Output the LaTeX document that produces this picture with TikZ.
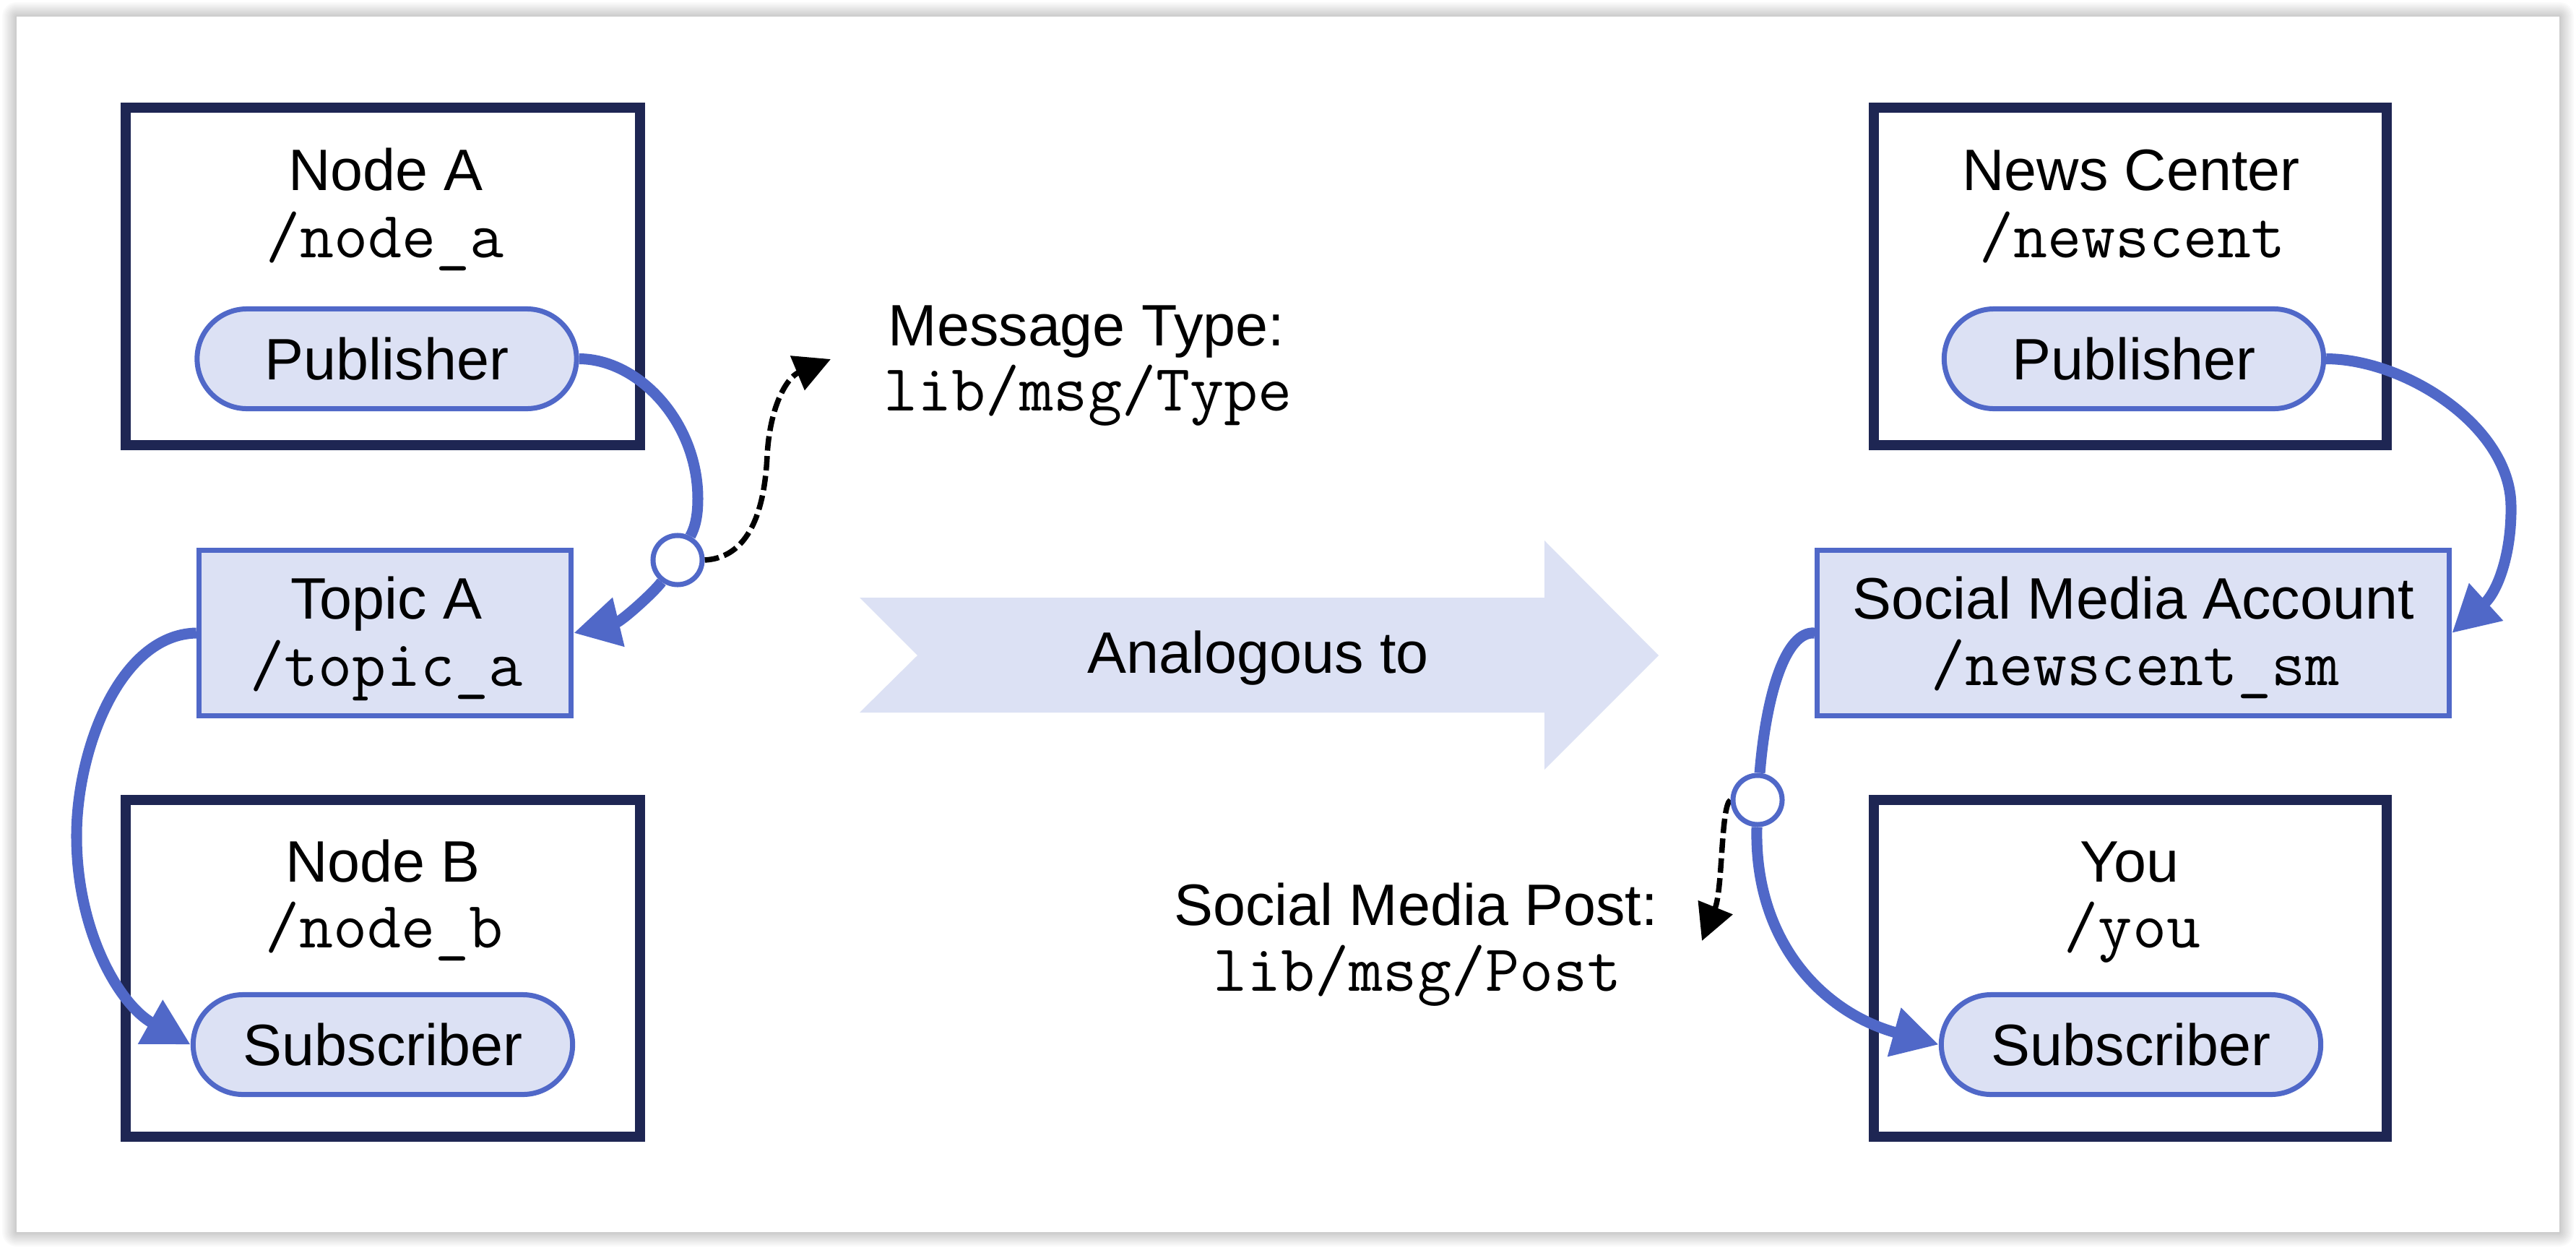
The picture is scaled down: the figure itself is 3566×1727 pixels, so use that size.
\documentclass[tikz,border=0pt]{standalone}
\usepackage{fontspec}
\setmainfont{Liberation Sans}
\usetikzlibrary{arrows.meta}
\definecolor{navy}{RGB}{30,38,83}
\definecolor{rosblue}{RGB}{80,104,200}
\definecolor{rosfill}{RGB}{220,225,244}
\pgfdeclarelayer{bg}
\pgfdeclarelayer{top}
\pgfsetlayers{bg,main,top}
\begin{document}
\begin{tikzpicture}[x=0.01cm,y=-0.01cm,
  nodebox/.style={draw=navy,line width=0.14cm,fill=white,minimum width=7.12cm,minimum height=4.67cm,inner sep=0pt},
  topicbox/.style={draw=rosblue,line width=0.07cm,fill=rosfill,minimum height=2.29cm,inner sep=0pt},
  pill/.style={draw=rosblue,line width=0.07cm,fill=rosfill,rounded corners=0.69cm,minimum width=5.25cm,minimum height=1.38cm,inner sep=0pt,font=\fontsize{23}{27}\selectfont},
  title/.style={anchor=base,inner sep=0pt,font=\fontsize{23}{27}\selectfont},
  code/.style={anchor=base,inner sep=0pt,font=\fontsize{26}{30}\selectfont\ttfamily},
  port/.style={circle,draw=rosblue,line width=0.07cm,fill=white,minimum size=0.68cm,inner sep=0pt},
  conn/.style={draw=rosblue,line width=0.15cm},
  connarrow/.style={conn,-{Triangle[length=0.64cm,width=0.66cm]}},
  msgarrow/.style={draw=black,line width=0.075cm,dash pattern=on 0.2cm off 0.075cm,-{Triangle[length=0.5cm,width=0.5cm]}},
]
\useasboundingbox (0,0) rectangle (3566,1727);
\begin{pgfonlayer}{bg}
\fill[white] (0,0) rectangle (3566,1727);
\foreach \i in {1,...,10}
  \draw[black,opacity=0.02,line width=\i*0.04cm,line join=round] (23,23) rectangle (3543,1705);
\fill[white] (23,23) rectangle (3543,1705);
\end{pgfonlayer}

% left side
\node[nodebox] (boxA) at (530,382.5) {};
\node[title] (nameA) at (534,263) {Node A};
\node[code] (idA) at (533,356) {/node\_a};
\node[pill] (pubA) at (535.5,496.5) {Publisher};

\node[topicbox,minimum width=5.15cm] (topicA) at (533,876) {};
\node[title] (nameTA) at (535,856) {Topic A};
\node[code] (idTA) at (535,949) {/topic\_a};

\node[nodebox,minimum height=4.655cm] (boxB) at (530,1340) {};
\node[title] (nameB) at (530,1220) {Node B};
\node[code] (idB) at (532,1311) {/node\_b};
\node[pill] (subB) at (530,1445.5) {Subscriber};

% middle
\fill[rosfill] (1190,827) -- (2138,827) -- (2138,748) -- (2296,907) -- (2138,1065) -- (2138,986) -- (1190,986) -- (1270,907) -- cycle;
\node[title] (analog) at (1742,931) {Analogous to};

\node[title] (msgT) at (1504,478) {Message Type:};
\node[code] (msgTid) at (1506,568) {lib/msg/Type};
\node[title] (msgP) at (1960,1280) {Social Media Post:};
\node[code] (msgPid) at (1962,1371) {lib/msg/Post};
\coordinate (tipT) at (1150,497);
\coordinate (tipP) at (2356,1302);

% right side
\node[nodebox,minimum width=7.1cm] (boxN) at (2949,382.5) {};
\node[title] (nameN) at (2950,263) {News Center};
\node[code] (idN) at (2952,356) {/newscent};
\node[pill] (pubN) at (2954,496.5) {Publisher};

\node[topicbox,minimum width=8.75cm] (smA) at (2953,876) {};
\node[title] (nameSM) at (2953,856) {Social Media Account};
\node[code] (idSM) at (2956,948) {/newscent\_sm};

\node[nodebox,minimum width=7.1cm,minimum height=4.655cm] (boxY) at (2949,1340) {};
\node[title] (nameY) at (2948,1220) {You};
\node[code] (idY) at (2952,1311) {/you};
\node[pill] (subY) at (2950,1445.5) {Subscriber};

\begin{pgfonlayer}{top}
\node[port] (portA) at (938,775) {};
\node[port] (portN) at (2433,1107) {};
\end{pgfonlayer}

% connectors
\draw[conn] (pubA.east) .. controls (885,497) and (966,585) .. (966,690) .. controls (966,715) and (962,730) .. (portA);
\draw[connarrow] (portA) .. controls (905,820) and (860,860) .. (topicA.east);
\draw[connarrow] (topicA.west) .. controls (165,878) and (105,1040) .. (106,1160) .. controls (107,1290) and (165,1390) .. (subB.west);
\draw[msgarrow] (portA.east) .. controls (1030,772) and (1058,720) .. (1062,630) .. controls (1066,560) and (1090,522) .. (tipT);

\draw[connarrow] (pubN.east) .. controls (3330,497) and (3475,590) .. (3476,700) .. controls (3477,765) and (3458,818) .. (smA.east);
\draw[conn] (smA.west) .. controls (2472,873) and (2445,960) .. (portN);
\draw[connarrow] (portN) .. controls (2428,1300) and (2520,1400) .. (subY.west);
\draw[msgarrow] (portN.west) .. controls (2382,1115) and (2385,1230) .. (tipP);
\end{tikzpicture}
\end{document}
